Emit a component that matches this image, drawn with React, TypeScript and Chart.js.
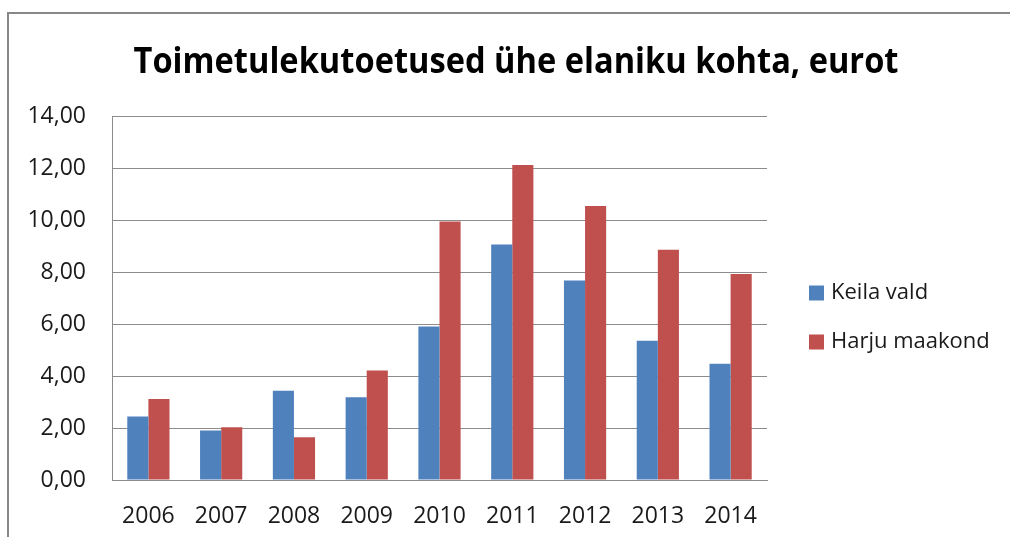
import React, { useEffect, useRef } from "react";
import { Chart, registerables } from "chart.js";

Chart.register(...registerables);

const years = ["2006", "2007", "2008", "2009", "2010", "2011", "2012", "2013", "2014"];
const keilaVald = [2.44, 1.9, 3.43, 3.18, 5.9, 9.06, 7.67, 5.36, 4.47];
const harjuMaakond = [3.12, 2.03, 1.64, 4.21, 9.94, 12.12, 10.54, 8.86, 7.92];
const yTickLabels = ["0,00", "2,00", "4,00", "6,00", "8,00", "10,00", "12,00", "14,00"];
const seriesNames = ["Keila vald", "Harju maakond"];
const seriesColors = ["#4f81bd", "#c0504d"];
const titleText = "Toimetulekutoetused ühe elaniku kohta, eurot";

const FONT = "'Open Sans', 'Liberation Sans', sans-serif";

const decorPlugin = {
  id: "decor",
  beforeDraw(chart: any) {
    const ctx = chart.ctx;
    ctx.save();
    ctx.fillStyle = "#ffffff";
    ctx.fillRect(0, 0, chart.width, chart.height);
    // outer frame
    ctx.strokeStyle = "#878787";
    ctx.lineWidth = 2;
    ctx.beginPath();
    ctx.moveTo(8, chart.height + 2);
    ctx.lineTo(8, 13);
    ctx.lineTo(chart.width + 2, 13);
    ctx.stroke();
    ctx.restore();
  },
  afterDraw(chart: any) {
    const ctx = chart.ctx;
    ctx.save();
    // title (condensed to the reference's narrow bold face)
    ctx.fillStyle = "#000000";
    ctx.font = `bold 35px ${FONT}`;
    ctx.textAlign = "center";
    ctx.textBaseline = "alphabetic";
    const w = ctx.measureText(titleText).width;
    const sx = Math.min(1, 765 / w);
    ctx.translate(516, 73);
    ctx.scale(sx, 1);
    ctx.fillText(titleText, 0, 0);
    ctx.setTransform(1, 0, 0, 1, 0, 0);
    // legend
    ctx.font = `22px ${FONT}`;
    ctx.textAlign = "left";
    ctx.textBaseline = "middle";
    const ys = [293, 342];
    seriesNames.forEach((name, i) => {
      ctx.fillStyle = seriesColors[i];
      ctx.fillRect(809, ys[i] - 7.5, 15, 15);
      ctx.fillStyle = "#1a1a1a";
      ctx.fillText(name, 831, ys[i]);
    });
    ctx.restore();
  },
};

export default function App() {
  const ref = useRef<HTMLCanvasElement | null>(null);
  useEffect(() => {
    if (!ref.current) return;
    const chart = new Chart(ref.current, {
      type: "bar",
      data: {
        labels: years,
        datasets: [
          {
            label: seriesNames[0],
            data: keilaVald,
            backgroundColor: seriesColors[0],
            categoryPercentage: 0.58,
            barPercentage: 1,
          },
          {
            label: seriesNames[1],
            data: harjuMaakond,
            backgroundColor: seriesColors[1],
            categoryPercentage: 0.58,
            barPercentage: 1,
          },
        ],
      },
      options: {
        responsive: false,
        animation: false,
        layout: { padding: { left: 0, top: 116, right: 243, bottom: 0 } },
        plugins: {
          legend: { display: false },
          title: { display: false },
          tooltip: { enabled: false },
        },
        scales: {
          x: {
            grid: { display: false, drawTicks: false },
            border: { display: true, color: "#8c8c8c", width: 1 },
            ticks: {
              padding: 23,
              color: "#1a1a1a",
              font: { family: FONT, size: 23 },
              maxRotation: 0,
            },
            afterFit: (scale: any) => {
              scale.height = 57;
            },
          },
          y: {
            min: 0,
            max: 14,
            grid: { color: "#8c8c8c", lineWidth: 1, drawTicks: false },
            border: { display: true, color: "#8c8c8c", width: 1 },
            ticks: {
              stepSize: 2,
              padding: 26,
              color: "#1a1a1a",
              font: { family: FONT, size: 23 },
              callback: (_v: any, i: number) => yTickLabels[i],
            },
            afterFit: (scale: any) => {
              scale.width = 112;
            },
          },
        },
      },
      plugins: [decorPlugin],
    });
    return () => chart.destroy();
  }, []);
  return (
    <div style={{ position: "absolute", left: 0, top: 0, width: 1010, height: 537 }}>
      <canvas ref={ref} width={1010} height={537} style={{ display: "block" }} />
    </div>
  );
}
